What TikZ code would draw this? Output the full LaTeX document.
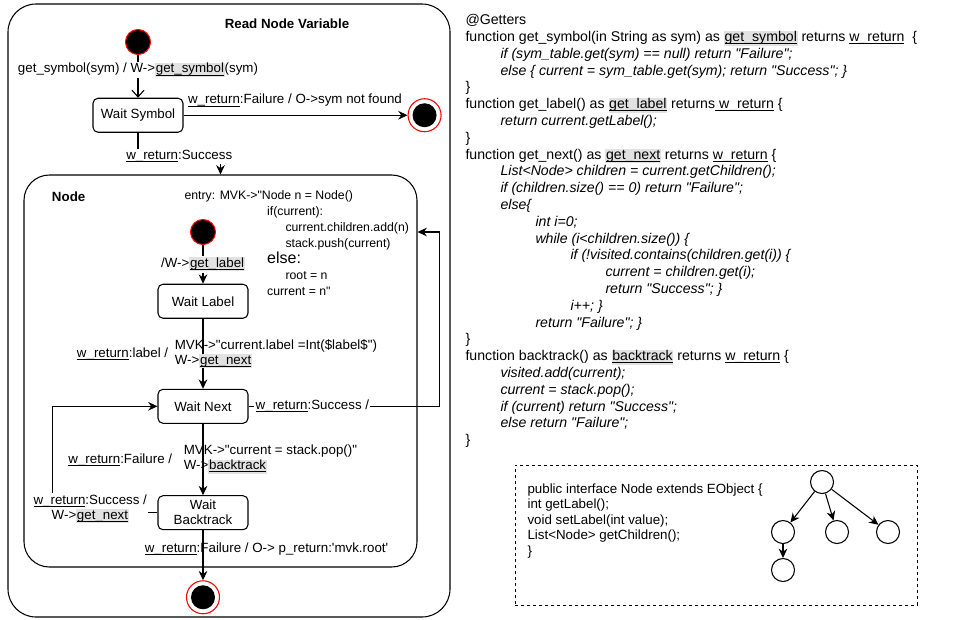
\documentclass[tikz,border=0pt]{standalone}
\usepackage{fontspec}
\setmainfont{Liberation Sans}[Ligatures=TeXOff]
\usepackage{tikz}
\usetikzlibrary{positioning}
\usetikzlibrary{shapes,arrows.meta}
\definecolor{hlgray}{HTML}{E2E2E2}
\newcommand{\lblfont}{\fontsize{10pt}{11.25pt}\selectfont}
\newcommand{\entryfont}{\fontsize{9.2pt}{12pt}\selectfont}
\newcommand{\codefont}{\fontsize{10.6pt}{12.6pt}\selectfont}
\newcommand{\undl}[1]{\underline{\smash{#1}}}
\newcommand{\fname}[1]{{\setlength{\fboxsep}{0.5pt}\colorbox{hlgray}{\rule[-0.25em]{0pt}{0.95em}\undl{#1}}}}
\newcommand{\wret}{\undl{w\_return}}
\newlength{\codestep}
\setlength{\codestep}{26.25pt}
\newcommand{\indl}[1]{\hspace*{#1\codestep}}
\tikzstyle{block} = [rectangle, draw, rounded corners=3.75pt, align=center,
                minimum width=67.5pt, minimum height=25.5pt, inner sep=1pt]
\tikzstyle{line} = [draw, -{Stealth[length=7pt,width=6.5pt]}]
\tikzstyle{init} = [circle, draw=red, fill=black, minimum size=18.75pt, inner sep=0pt]
\tikzstyle{final} = [circle, draw=red, fill=white, minimum size=24.75pt, inner sep=0pt,
                path picture={\fill[black] (path picture bounding box.center) circle (9pt);}]
\tikzstyle{container} = [rectangle, draw, inner sep=0pt]
\tikzstyle{lab} = [inner sep=1pt]
\tikzstyle{leaf} = [circle, draw, minimum size=17.25pt, inner sep=0pt]

\begin{document}
\begin{tikzpicture}[x=0.75pt, y=-0.75pt, font=\lblfont, line width=0.8pt]
        \useasboundingbox (0,0) rectangle (970,619);
        \node[container, rounded corners=21pt, minimum width=331.5pt, minimum height=459.75pt](readvar) at (229,310.5){};
        \node[font=\lblfont\bfseries](readtitle) at (287,24){Read Node Variable};
        \node[init](start) at (138,42){};
        \node[block, below=32pt of start](waitsym){Wait Symbol};
        \node[final, right=168pt of waitsym](symfail){};
        \node[container, rounded corners=19pt, minimum width=294.75pt, minimum height=294pt](nodestate) at (220.5,371){};
        \node[font=\lblfont\bfseries, anchor=west](nodetitle) at (47,197){Node};
        \node[anchor=north west, align=left, font=\entryfont, inner sep=0pt](entry) at (184,190){entry: MVK->"Node n = Node()\\
            \hspace*{62pt}if(current):\\
            \hspace*{75.75pt}current.children.add(n)\\
            \hspace*{75.75pt}stack.push(current)\\
            \hspace*{62pt}{\fontsize{12pt}{12pt}\selectfont else:}\\
            \hspace*{75.75pt}root = n\\
            \hspace*{62pt}current = n"};
        \node[init](nstart) at (203,232){};
        \node[block, below=29pt of nstart](waitlabel){Wait Label};
        \node[block, below=52.5pt of waitlabel](waitnext){Wait Next};
        \node[block, below=53.5pt of waitnext](waitback){Wait\\Backtrack};
        \node[final, below=37.5pt of waitback](nodeend){};
        \path[draw, -{Straight Barb[length=5pt,width=9pt]}] (start) -- node[pos=0.35, fill=white, lab]{get\_symbol(sym) / W->\fname{get\_symbol}(sym)} (waitsym);
        \path[line] (waitsym) -- node[pos=0, anchor=south west, lab, xshift=2pt, yshift=5pt]{\wret:Failure / O->sym not found} (symfail);
        \path[line] (waitsym.south) -- ++(0,23.5) -| node[pos=0.25, fill=white, lab]{\wret:Success} (nodestate.north);
        \path[line] (nstart) -- node[fill=white, lab]{/W->\fname{get\_label}} (waitlabel);
        \path[line] (waitlabel) -- node[anchor=east, lab, xshift=-24.75pt]{\wret:label /}
            node[anchor=west, lab, align=left, xshift=-22.5pt]{MVK->"current.label =Int(\$label\$")\\W->\fname{get\_next}} (waitnext);
        \path[line] (waitnext.east) -- node[pos=0, anchor=west, fill=white, lab, xshift=4pt]{\wret:Success /} ++(191,0) |- (nodestate.east |- nstart);
        \path[line] (waitnext) -- node[anchor=east, lab, xshift=-21.75pt]{\wret:Failure /}
            node[anchor=west, lab, align=left, xshift=-15.75pt]{MVK->"current = stack.pop()"\\W->\fname{backtrack}} (waitback);
        \path[line] (waitback.west) -- node[pos=0.64, fill=white, lab, align=center, yshift=3pt]{\wret:Success /\\W->\fname{get\_next}} ++(-105,0) |- (waitnext.west);
        \path[line] (waitback) -- node[pos=0.38, anchor=west, lab, xshift=-45pt]{\wret:Failure / O-> p\_return:'mvk.root'} (nodeend);
            % getters code
            \node[anchor=north west, align=left, font=\codefont, inner sep=0pt](getters) at (465,14){@Getters\\
                function get\_symbol(in String as sym) as \fname{get\_symbol} returns \wret\ \ \{\\
                \indl{1}\textit{if (sym\_table.get(sym) == null) return "Failure";}\\
                \indl{1}\textit{else \{ current = sym\_table.get(sym); return "Success"; \}}\\
                \}\\
                function get\_label() as \fname{get\_label} returns\undl{\ w\_return} \{\\
                \indl{1}\textit{return current.getLabel();}\\
                \}\\
                function get\_next() as \fname{get\_next} returns \wret\ \{\\
                \indl{1}\textit{List<Node> children = current.getChildren();}\\
                \indl{1}\textit{if (children.size() == 0) return "Failure";}\\
                \indl{1}\textit{else\{}\\
                \indl{2}\textit{int i=0;}\\
                \indl{2}\textit{while (i<children.size()) \{}\\
                \indl{3}\textit{if (!visited.contains(children.get(i)) \{}\\
                \indl{4}\textit{current = children.get(i);}\\
                \indl{4}\textit{return "Success"; \}}\\
                \indl{3}\textit{i++; \}}\\
                \indl{2}\textit{return "Failure"; \}}\\
                \}\\
                function backtrack() as \fname{backtrack} returns \wret\ \{\\
                \indl{1}\textit{visited.add(current);}\\
                \indl{1}\textit{current = stack.pop();}\\
                \indl{1}\textit{if (current) return "Success";}\\
                \indl{1}\textit{else return "Failure";}\\
                \}};
            % interface and tree
            \node[container, dash pattern=on 2.5pt off 2pt, line width=0.6pt, minimum width=301.5pt, minimum height=105pt](ifacebox) at (716,535){};
            \node[anchor=north west, align=left, font=\fontsize{10pt}{11.6pt}\selectfont, inner sep=0pt](iface) at (527,483){public interface Node extends EObject \{\\
                int getLabel();\\
                void setLabel(int value);\\
                List<Node> getChildren();\\
                \}};
            \node[leaf](root) at (822,482){};
            \node[leaf](childa) at (783,532){};
            \node[leaf](childb) at (837,532){};
            \node[leaf](childc) at (888,532){};
            \node[leaf](grandchild) at (783,570){};
            \path[line] (root) -- (childa);
            \path[line] (root) -- (childb);
            \path[line] (root) -- (childc);
            \path[line] (childa) -- (grandchild);
        \end{tikzpicture}
\end{document}
